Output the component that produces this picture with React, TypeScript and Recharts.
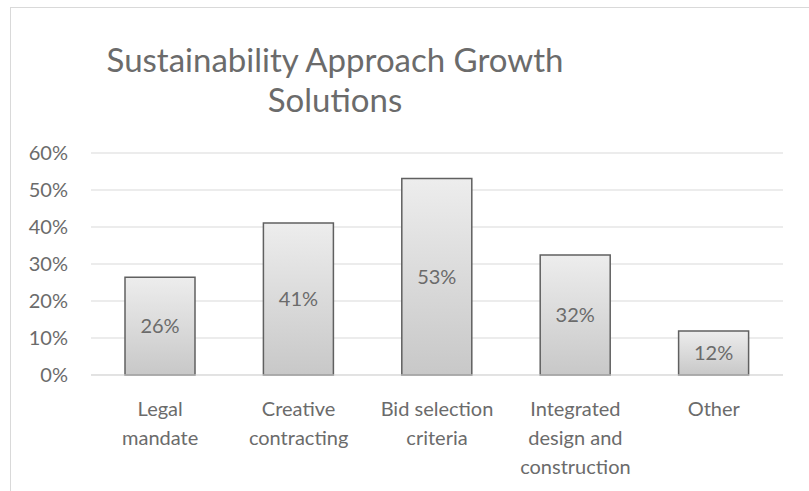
import { BarChart, Bar, XAxis, YAxis, CartesianGrid, LabelList } from "recharts";

const categories = [
  "Legal\nmandate",
  "Creative\ncontracting",
  "Bid selection\ncriteria",
  "Integrated\ndesign and\nconstruction",
  "Other",
];
const shares = [0.264, 0.411, 0.531, 0.324, 0.119];
const yTicks = [0, 0.1, 0.2, 0.3, 0.4, 0.5, 0.6];

const data = categories.map((name, i) => ({ name, share: shares[i] }));

const FONT = "Lato, 'Open Sans', sans-serif";
const GREY = "#6b6b6b";
const SIZE = 20;

const pct = (v: number) => `${Math.round(v * 100)}%`;

function CategoryTick(props: any) {
  const { x, y, payload } = props;
  const lines = String(payload.value).split("\n");
  return (
    <text
      x={x}
      y={y + 33}
      textAnchor="middle"
      fill={GREY}
      fontSize={SIZE}
      fontFamily={FONT}
    >
      {lines.map((line, i) => (
        <tspan key={i} x={x} dy={i === 0 ? 0 : 29}>
          {line}
        </tspan>
      ))}
    </text>
  );
}

export default function App() {
  return (
    <div
      style={{
        position: "absolute",
        left: 0,
        top: 0,
        width: 809,
        height: 491,
        background: "#fff",
        overflow: "hidden",
        fontFamily: FONT,
      }}
    >
      <div
        style={{
          position: "absolute",
          left: 10,
          top: 7,
          width: 799,
          height: 484,
          borderTop: "1px solid #d9d9d9",
          borderLeft: "1px solid #d9d9d9",
          boxSizing: "border-box",
        }}
      />
      <div
        style={{
          position: "absolute",
          left: 10,
          top: 39,
          width: 650,
          textAlign: "center",
          fontSize: 33,
          lineHeight: "40px",
          color: GREY,
        }}
      >
        Sustainability Approach Growth
        <br />
        Solutions
      </div>
      <BarChart
        width={809}
        height={491}
        data={data}
        margin={{ top: 153, right: 26, bottom: 16, left: 0 }}
        style={{ position: "absolute", left: 0, top: 0 }}
      >
        <defs>
          <linearGradient id="barFill" x1="0" y1="0" x2="0" y2="1">
            <stop offset="0%" stopColor="#ededed" />
            <stop offset="100%" stopColor="#c8c8c8" />
          </linearGradient>
        </defs>
        <CartesianGrid vertical={false} stroke="#d9d9d9" />
        <XAxis
          dataKey="name"
          height={100}
          interval={0}
          axisLine={{ stroke: "#d9d9d9" }}
          tickLine={false}
          tick={<CategoryTick />}
        />
        <YAxis
          width={91}
          domain={[0, 0.6]}
          ticks={yTicks}
          tickFormatter={pct}
          axisLine={false}
          tickLine={false}
          tickMargin={17}
          tick={{ fill: GREY, fontSize: SIZE, fontFamily: FONT }}
        />
        <Bar
          dataKey="share"
          fill="url(#barFill)"
          stroke="#606060"
          strokeWidth={1.5}
          barSize={70}
          isAnimationActive={false}
        >
          <LabelList
            dataKey="share"
            position="center"
            formatter={(v: any) => pct(Number(v))}
            fill={GREY}
            fontSize={SIZE}
            fontFamily={FONT}
          />
        </Bar>
      </BarChart>
    </div>
  );
}
